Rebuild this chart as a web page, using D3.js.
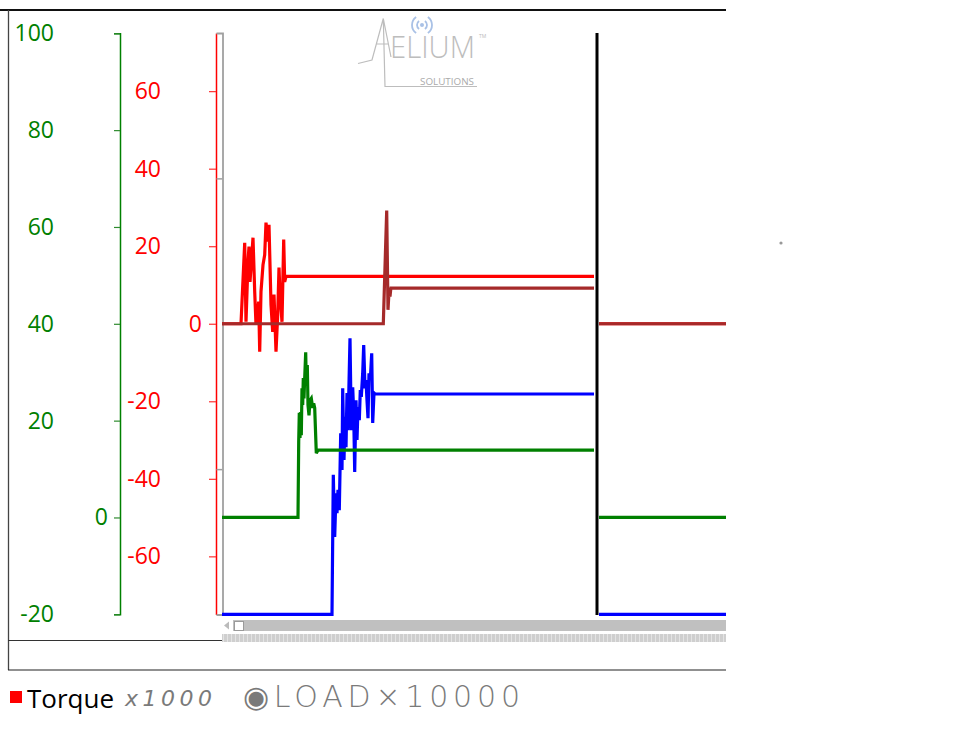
<!DOCTYPE html>
<html>
<head>
<meta charset="utf-8">
<script src="https://cdn.jsdelivr.net/npm/d3@7"></script>
<style>
  html, body { margin: 0; padding: 0; background: #fff; }
  svg { display: block; }
</style>
</head>
<body>
<svg id="chart" width="972" height="742"></svg>
<script>
// ---------- DATA ----------
const xDomain = [0, 504];           // sample index
const cursorT = 375;                 // cursor position (sample index)

const greenAxisDomain = [-20, 100];
const greenTicks = [-20, 0, 20, 40, 60, 80, 100];
const redAxisDomain = [-75, 75];
const redTicks = [-60, -40, -20, 0, 20, 40, 60];
const grayAxisDomain = [-2, 2];
const grayTicks = [-1, 1];

// Torque (red, red axis)
const torqueT = [0,19,22.7,24,26,27,28,31,32.7,34,36.7,37.7,39,41,42.7,44,46,47,49,50.7,52,54,55.7,57,58,60,61.7,62.7,64,372,374,377,504];
const torqueV = [0,0,20.9,0.5,16,19.9,10.8,22.2,8.3,-0.3,5.7,-7.2,8.3,15.2,17.8,26.1,21.2,25.5,4.9,-2.1,7.5,-7.2,2.3,14.5,7.5,0.5,21.7,10.8,12.2,12.2,null,0,0];

// Load (brown, red axis)
const loadT = [0,161.3,164.7,166,167,168,168.7,169,372,374,377,504];
const loadV = [0,0,29.2,3.6,8.3,7.0,8.8,9.2,9.2,null,0,0];

// Green series (green axis)
const greenT = [0,76,76.7,77.3,78,78.7,79.3,80,80.7,81.3,82,82.7,83.7,84.3,85.3,86,87,88,89.3,90.7,91.7,92.7,94.3,96,372,374,377,504];
const greenV = [0,0,15.6,21.6,16.4,21.8,17.0,26.7,23.2,28.8,24.6,28.8,34.1,27.4,31.5,23.2,21.1,24.2,24.6,22.6,23.6,22.6,13.3,13.9,13.9,null,0,0];

// Blue series (green axis)
const blueT = [0,110,111.3,112.7,114,115,116,117.3,118.7,120,120.7,122,123,124,125,126,127,128,129.3,130.7,131.7,132.7,134,135,136,137.3,138.3,139.3,140.7,141.7,143,144,145,146,147,148.3,149.7,150.7,152,153,372,374,377,504];
const blueV = [-20,-20,8.8,-4.0,5.0,0.9,5.7,1.5,17.4,9.8,26.7,11.9,20.8,14.5,25.7,18.0,27.7,37.0,18.0,26.9,21.5,9.4,24.2,16.0,22.8,20.1,26.3,24.9,29.8,35.6,26.7,28.4,24.2,20.5,29.8,28.4,33.9,19.5,25.7,25.5,25.5,null,-20,-20];

const legendLabel = "Torque";
const noteA = "x1000";
const noteB = "\u25C9LOAD\u00D710000";

// ---------- DRAW ----------
const svg = d3.select("#chart");
const FONT = "'Open Sans', 'Noto Sans', sans-serif";
const fmt = d => String(d);   // plain hyphen-minus like the original

const plotL = 222, plotR = 726, plotT = 33, plotB = 614.5;
const x = d3.scaleLinear().domain(xDomain).range([plotL, plotR]);
const yGreen = d3.scaleLinear().domain(greenAxisDomain).range([614.3, 33.3]);
const yRed = d3.scaleLinear().domain(redAxisDomain).range([plotB, plotT]);
const yGray = d3.scaleLinear().domain(grayAxisDomain).range([plotB, plotT]);

// frame
svg.append("line").attr("x1", 0).attr("x2", 726).attr("y1", 10).attr("y2", 10)
  .attr("stroke", "#111").attr("stroke-width", 2);
svg.append("line").attr("x1", 8.5).attr("x2", 8.5).attr("y1", 10).attr("y2", 670)
  .attr("stroke", "#444").attr("stroke-width", 1.3);
svg.append("line").attr("x1", 8).attr("x2", 726).attr("y1", 670).attr("y2", 670)
  .attr("stroke", "#222").attr("stroke-width", 1.2);
svg.append("line").attr("x1", 8).attr("x2", 222).attr("y1", 640.5).attr("y2", 640.5)
  .attr("stroke", "#333").attr("stroke-width", 1);

// logo
const logo = svg.append("g").attr("fill", "none");
logo.append("path")
  .attr("d", "M358,63.5 L372,60 L383.3,18.5 L391,57 M376,44 L388,44 M383.3,18.5 L385,86.5 L477,86.5")
  .attr("stroke", "#bdbdbd").attr("stroke-width", 1.2);
logo.append("text").attr("x", 390).attr("y", 58).attr("font-family", FONT)
  .attr("font-size", 31).attr("font-weight", 300).attr("fill", "#bdbdbd")
  .attr("textLength", 85).attr("lengthAdjust", "spacingAndGlyphs").text("ELIUM");
logo.append("text").attr("x", 479).attr("y", 38).attr("font-family", FONT)
  .attr("font-size", 5).attr("fill", "#bbb").text("TM");
logo.append("text").attr("x", 420).attr("y", 85).attr("font-family", FONT)
  .attr("font-size", 9.5).attr("fill", "#aaa")
  .attr("textLength", 54).attr("lengthAdjust", "spacingAndGlyphs").text("SOLUTIONS");
const wifi = logo.append("g").attr("stroke", "#a9c1e6").attr("stroke-width", 1.8);
logo.append("circle").attr("cx", 422).attr("cy", 25).attr("r", 2).attr("fill", "#a9c1e6");
[5, 10].forEach(r => {
  wifi.append("path").attr("d", d3.arc()({innerRadius: r, outerRadius: r, startAngle: -Math.PI * 0.8, endAngle: -Math.PI * 0.2})).attr("transform", "translate(422,25)");
  wifi.append("path").attr("d", d3.arc()({innerRadius: r, outerRadius: r, startAngle: Math.PI * 0.2, endAngle: Math.PI * 0.8})).attr("transform", "translate(422,25)");
});

// green axis
const gAxis = svg.append("g").attr("transform", "translate(120,0)")
  .call(d3.axisLeft(yGreen).tickValues(greenTicks).tickSize(6).tickSizeOuter(6).tickFormat(fmt));
gAxis.select(".domain").attr("stroke", "#008000").attr("stroke-width", 1.5);
gAxis.selectAll(".tick line").attr("stroke", "#2e8b2e").attr("stroke-width", 1.2);
gAxis.selectAll(".tick text").attr("x", d => d === 0 ? -12 : -66)
  .attr("fill", "#008000").attr("font-family", FONT).attr("font-size", 23);

// red axis
const rAxis = svg.append("g").attr("transform", "translate(216,0)")
  .call(d3.axisLeft(yRed).tickValues(redTicks).tickSize(7).tickSizeOuter(0).tickFormat(fmt));
rAxis.select(".domain").attr("stroke", "#ff0000").attr("stroke-width", 1.5);
rAxis.selectAll(".tick line").attr("stroke", "#ff3030").attr("stroke-width", 1.2);
rAxis.selectAll(".tick text").attr("x", d => d === 0 ? -14 : -55)
  .attr("fill", "#ff0000").attr("font-family", FONT).attr("font-size", 23);

// gray axis
const grAxis = svg.append("g").attr("transform", "translate(222.5,0)")
  .call(d3.axisLeft(yGray).tickValues(grayTicks).tickSize(6).tickSizeOuter(6).tickFormat(() => ""));
grAxis.select(".domain").attr("stroke", "#a0a0a0").attr("stroke-width", 1.8);
grAxis.selectAll(".tick line").attr("stroke", "#a0a0a0").attr("stroke-width", 1.5);

// clip
svg.append("clipPath").attr("id", "plotclip").append("rect")
  .attr("x", plotL).attr("y", plotT - 2).attr("width", plotR - plotL).attr("height", plotB - plotT + 4);

const series = [
  {t: blueT, v: blueV, y: yGreen, color: "#0000ff"},
  {t: greenT, v: greenV, y: yGreen, color: "#008000"},
  {t: torqueT, v: torqueV, y: yRed, color: "#ff0000"},
  {t: loadT, v: loadV, y: yRed, color: "#a52a2a"}
];
const plot = svg.append("g").attr("clip-path", "url(#plotclip)");
series.forEach(s => {
  const pts = s.t.map((t, i) => ({t, v: s.v[i]}));
  const line = d3.line().defined(d => d.v !== null).x(d => x(d.t)).y(d => s.y(d.v));
  plot.append("path").datum(pts).attr("d", line)
    .attr("fill", "none").attr("stroke", s.color).attr("stroke-width", 3.2)
    .attr("stroke-linejoin", "miter").attr("stroke-miterlimit", 3);
});

// cursor line
svg.append("line").attr("x1", x(cursorT)).attr("x2", x(cursorT)).attr("y1", plotT).attr("y2", 615)
  .attr("stroke", "#000").attr("stroke-width", 3);

// scrollbar
const defs = svg.append("defs");
const pat = defs.append("pattern").attr("id", "dots").attr("width", 4).attr("height", 8)
  .attr("patternUnits", "userSpaceOnUse");
pat.append("rect").attr("width", 4).attr("height", 8).attr("fill", "#cfcfcf");
pat.append("rect").attr("x", 3).attr("width", 1).attr("height", 8).attr("fill", "#e4e4e4");
svg.append("rect").attr("x", 233).attr("y", 620).attr("width", 726 - 233).attr("height", 11).attr("fill", "#c0c0c0");
svg.append("path").attr("d", "M224,625.5 L229,621.5 L229,629.5 Z").attr("fill", "#bbb");
svg.append("rect").attr("x", 234.5).attr("y", 621.5).attr("width", 9).attr("height", 9)
  .attr("fill", "#fff").attr("stroke", "#9a9a9a").attr("stroke-width", 1);
svg.append("rect").attr("x", 222).attr("y", 634).attr("width", 726 - 222).attr("height", 8).attr("fill", "url(#dots)");

// legend
svg.append("rect").attr("x", 10).attr("y", 691).attr("width", 12).attr("height", 12).attr("fill", "#ff0000");
svg.append("text").attr("x", 27).attr("y", 708).attr("font-family", FONT).attr("font-size", 26)
  .attr("fill", "#000").text(legendLabel);
svg.append("text").attr("x", 125).attr("y", 706).attr("font-family", "'DejaVu Sans', sans-serif")
  .attr("font-size", 22).attr("font-style", "italic").attr("font-weight", 300).attr("fill", "#7a7a7a")
  .attr("textLength", 87).attr("lengthAdjust", "spacing").text(noteA);
svg.append("text").attr("x", 243).attr("y", 707).attr("font-family", "'DejaVu Sans', sans-serif")
  .attr("font-size", 30).attr("font-weight", 300).attr("fill", "#7a7a7a")
  .attr("textLength", 277).attr("lengthAdjust", "spacing").text(noteB);

// stray dot
svg.append("circle").attr("cx", 781).attr("cy", 243).attr("r", 1.6).attr("fill", "#999");
</script>
</body>
</html>
